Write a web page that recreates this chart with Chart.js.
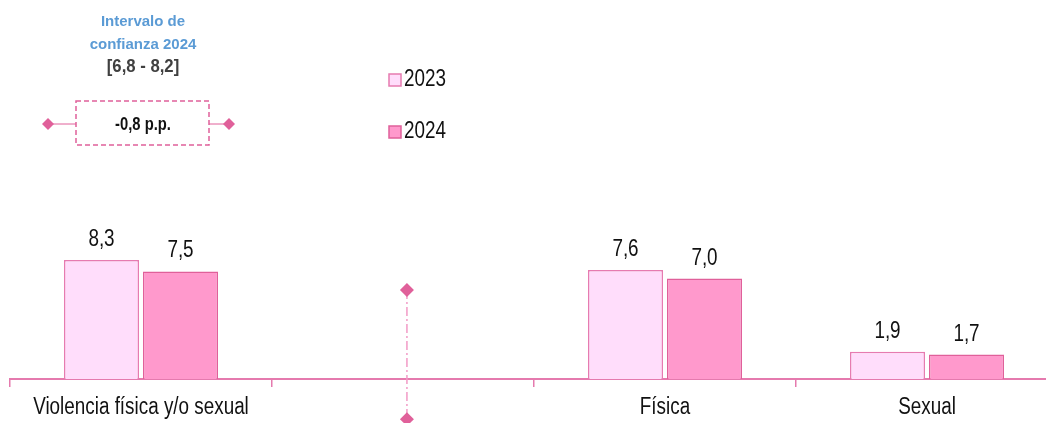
<!DOCTYPE html>
<html>
<head>
<meta charset="utf-8">
<script src="https://cdn.jsdelivr.net/npm/chart.js@4.4.0/dist/chart.umd.min.js"></script>
<style>
  html, body { margin: 0; padding: 0; background: #fff; overflow: hidden; }
  #wrap { width: 1070px; height: 423px; }
</style>
</head>
<body>
<div id="wrap"><canvas id="c" width="1070" height="423"></canvas></div>
<script>
// categories and values
const categories = ['Violencia física y/o sexual', '', 'Física', 'Sexual'];
const values2023 = [8.3, null, 7.6, 1.9];
const values2024 = [7.5, null, 7.0, 1.7];
const seriesNames = ['2023', '2024'];
// dash-dot marker line in the empty slot (x in category units from the left edge, y in %)
const markerX = 1.515;
const markerY = [6.2, -2.8];
// note box in the upper left
const noteTitle = ['Intervalo de', 'confianza 2024'];
const noteRange = '[6,8 - 8,2]';
const noteDiff = '-0,8 p.p.';

const PINK = '#E0609A';
const AXIS = '#E57AAE';
const FONT = '"Liberation Sans", Arial, sans-serif';
const SQUEEZE = 0.82; // no Arial Narrow here, so squeeze Liberation Sans

const fmt = v => v.toFixed(1).replace('.', ',');

function diamond(ctx, x, y, r) {
  ctx.beginPath();
  ctx.moveTo(x, y - r); ctx.lineTo(x + r, y); ctx.lineTo(x, y + r); ctx.lineTo(x - r, y);
  ctx.closePath(); ctx.fill();
}

function narrow(ctx, text, x, y, sx) {
  ctx.save();
  ctx.translate(x, y);
  ctx.scale(sx || SQUEEZE, 1);
  ctx.fillText(text, 0, 0);
  ctx.restore();
}

const extras = {
  id: 'extras',
  afterDatasetsDraw(chart) {
    const ctx = chart.ctx;
    const xs = chart.scales.x, ys = chart.scales.y;
    const base = ys.getPixelForValue(0);
    ctx.save();

    // category labels under the axis
    ctx.font = '23px ' + FONT;
    ctx.fillStyle = '#111';
    ctx.textAlign = 'center';
    ctx.textBaseline = 'middle';
    chart.data.labels.forEach((lab, i) => {
      if (lab) narrow(ctx, lab, xs.getPixelForValue(i), base + 29);
    });

    // value labels above bars
    ctx.textBaseline = 'alphabetic';
    [0, 1].forEach(di => {
      const meta = chart.getDatasetMeta(di);
      meta.data.forEach((bar, i) => {
        const v = chart.data.datasets[di].data[i];
        if (v == null) return;
        narrow(ctx, fmt(v), bar.x, bar.y - 14);
      });
    });

    // dash-dot marker line with diamonds
    const mx = xs.getPixelForDecimal(markerX / chart.data.labels.length);
    const y1 = ys.getPixelForValue(markerY[0]);
    const y2 = ys.getPixelForValue(markerY[1]);
    ctx.strokeStyle = '#F29BC6';
    ctx.lineWidth = 1.5;
    ctx.setLineDash([9, 3, 2, 3]);
    ctx.beginPath();
    ctx.moveTo(mx, y1); ctx.lineTo(mx, y2);
    ctx.stroke();
    ctx.setLineDash([]);
    ctx.fillStyle = PINK;
    diamond(ctx, mx, y1, 7);
    diamond(ctx, mx, y2, 7);

    // legend
    const legendY = [80, 132];
    [0, 1].forEach(di => {
      const ds = chart.data.datasets[di];
      const y = legendY[di];
      ctx.fillStyle = ds.backgroundColor;
      ctx.strokeStyle = ds.borderColor;
      ctx.lineWidth = 1.5;
      ctx.fillRect(389, y - 6, 12, 12);
      ctx.strokeRect(389, y - 6, 12, 12);
      ctx.fillStyle = '#111';
      ctx.textAlign = 'left';
      ctx.textBaseline = 'middle';
      ctx.font = '23px ' + FONT;
      narrow(ctx, ds.label, 404, y);
    });

    // note box
    const cx = 143;
    ctx.textAlign = 'center';
    ctx.textBaseline = 'middle';
    ctx.font = 'bold 15px ' + FONT;
    ctx.fillStyle = '#5B9BD5';
    ctx.fillText(noteTitle[0], cx, 22);
    ctx.fillText(noteTitle[1], cx, 45);
    ctx.fillStyle = '#404040';
    ctx.font = 'bold 19px ' + FONT;
    narrow(ctx, noteRange, cx, 67, 0.88);

    ctx.strokeStyle = PINK;
    ctx.lineWidth = 1.5;
    ctx.setLineDash([5, 3]);
    ctx.strokeRect(76, 101, 133, 44);
    ctx.setLineDash([]);
    ctx.lineWidth = 1;
    ctx.beginPath();
    ctx.moveTo(48, 124); ctx.lineTo(76, 124);
    ctx.moveTo(209, 124); ctx.lineTo(229, 124);
    ctx.stroke();
    ctx.fillStyle = PINK;
    diamond(ctx, 48, 124, 6);
    diamond(ctx, 229, 124, 6);
    ctx.fillStyle = '#111';
    ctx.font = 'bold 18px ' + FONT;
    narrow(ctx, noteDiff, cx, 125);
    ctx.restore();
  }
};

new Chart(document.getElementById('c'), {
  type: 'bar',
  data: {
    labels: categories,
    datasets: [
      {
        label: seriesNames[0], data: values2023,
        backgroundColor: '#FFDDFB', borderColor: '#E67BB0', borderWidth: 1.5,
        barPercentage: 0.95, categoryPercentage: 0.603
      },
      {
        label: seriesNames[1], data: values2024,
        backgroundColor: '#FF99CC', borderColor: '#E0609A', borderWidth: 1.5,
        barPercentage: 0.95, categoryPercentage: 0.603
      }
    ]
  },
  options: {
    animation: false,
    responsive: false,
    layout: { autoPadding: false, padding: { left: 10, right: 12, top: 0, bottom: 0 } },
    plugins: { legend: { display: false }, tooltip: { enabled: false } },
    scales: {
      x: {
        type: 'category',
        position: { y: 0 },
        grid: { offset: true, drawOnChartArea: false, drawTicks: true, tickLength: 7, color: AXIS, lineWidth: 1.5 },
        border: { display: true, color: AXIS, width: 2 },
        ticks: { display: false, autoSkip: false }
      },
      y: { display: false, min: -3.07, max: 26.43 }
    }
  },
  plugins: [extras]
});
</script>
</body>
</html>
